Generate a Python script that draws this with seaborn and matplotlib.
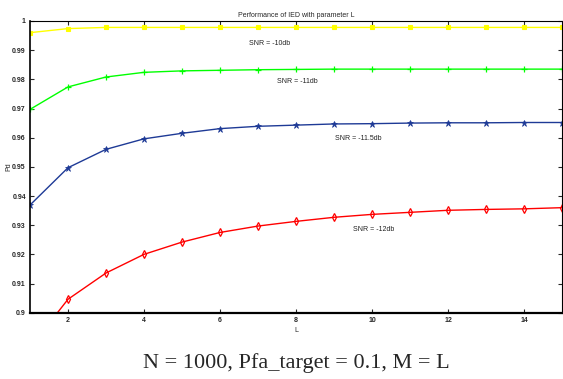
import matplotlib
matplotlib.use("Agg")
import matplotlib.pyplot as plt
import seaborn as sns
import pandas as pd

L = list(range(1, 16))
snr_m10 = [0.9960, 0.9974, 0.9978, 0.9978, 0.9978, 0.9978, 0.9978, 0.9978,
           0.9978, 0.9978, 0.9978, 0.9978, 0.9978, 0.9978, 0.9978]
snr_m11 = [0.9697, 0.9774, 0.9808, 0.9824, 0.9829, 0.9831, 0.9833, 0.9834,
           0.9835, 0.9835, 0.9835, 0.9835, 0.9835, 0.9835, 0.9835]
snr_m115 = [0.9369, 0.9497, 0.9560, 0.9596, 0.9615, 0.9631, 0.9639, 0.9643,
            0.9647, 0.9648, 0.9650, 0.9651, 0.9651, 0.9652, 0.9652]
snr_m12 = [0.8880, 0.9046, 0.9136, 0.9200, 0.9242, 0.9275, 0.9297, 0.9313,
           0.9327, 0.9337, 0.9344, 0.9351, 0.9354, 0.9356, 0.9360]
series_names = ["SNR = -10db", "SNR = -11db", "SNR = -11.5db", "SNR = -12db"]
series_values = [snr_m10, snr_m11, snr_m115, snr_m12]
x_ticks = [2, 4, 6, 8, 10, 12, 14]
y_ticks = [0.9, 0.91, 0.92, 0.93, 0.94, 0.95, 0.96, 0.97, 0.98, 0.99, 1.0]
y_tick_labels = ["0.9", "0.91", "0.92", "0.93", "0.94", "0.95", "0.96",
                 "0.97", "0.98", "0.99", "1"]
label_pos = [(6.75, 0.9924), (7.5, 0.9793), (9.03, 0.9597), (9.5, 0.9286)]

sns.set_style("ticks")
plt.rcParams['font.family'] = ['Liberation Sans', 'DejaVu Sans']

fig = plt.figure(figsize=(5.63, 3.79), dpi=100)
ax = fig.add_axes([0.0533, 0.175, 0.945, 0.7696])

colors = ["#ffff00", "#00ff00", "#1e3a96", "#ff0000"]
styles = [
    dict(marker="s", markersize=2.5, markeredgewidth=0.8),
    dict(marker="+", markersize=5, markeredgewidth=0.9),
    dict(marker="*", markersize=5, markeredgewidth=0.5),
    dict(marker="d", markersize=4.2, markeredgewidth=0.9, markerfacecolor="none"),
]

for name, vals, col, st in zip(series_names, series_values, colors, styles):
    df = pd.DataFrame({"L": L, "Pd": vals})
    kw = dict(st)
    kw.setdefault("markerfacecolor", col)
    sns.lineplot(data=df, x="L", y="Pd", ax=ax, linewidth=1.0, color=col,
                 markeredgecolor=col, **kw)

for name, (tx, ty) in zip(series_names, label_pos):
    ax.text(tx, ty, name, fontsize=5, ha="left", va="center", color="#222222")

ax.set_xlim(1, 15)
ax.set_ylim(0.9, 1.0)
ax.set_xticks(x_ticks)
ax.set_yticks(y_ticks)
ax.set_yticklabels(y_tick_labels)
ax.tick_params(axis="both", direction="in", labelsize=5, length=3, width=0.8,
               top=True, right=True, pad=3)
for lbl in ax.get_xticklabels() + ax.get_yticklabels():
    lbl.set_fontweight("bold")
for sp in ax.spines.values():
    sp.set_visible(True)
    sp.set_linewidth(0.8)
    sp.set_color("black")
ax.spines["bottom"].set_linewidth(1.6)
ax.spines["left"].set_linewidth(1.2)
ax.set_xlabel("L", fontsize=5, labelpad=2)
ax.set_ylabel("Pd", fontsize=5, labelpad=0)
ax.set_title("Performance of IED with parameter L", fontsize=5, pad=3)
ax.grid(False)

fig.text(0.526, 0.042, "N = 1000, Pfa_target = 0.1, M = L", ha="center",
         va="center", fontsize=16, family="Liberation Serif")

fig.savefig("out.png", dpi=100)
